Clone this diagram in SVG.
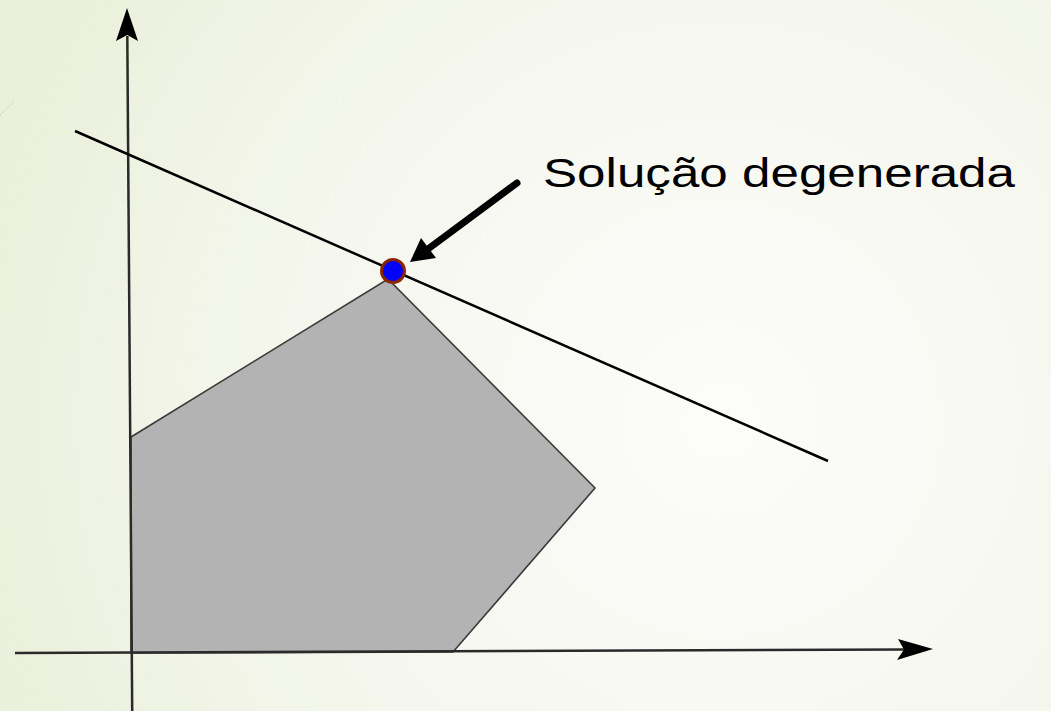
<svg xmlns="http://www.w3.org/2000/svg" width="1051" height="711" viewBox="0 0 1051 711">
  <defs>
    <radialGradient id="bg" cx="720" cy="420" r="760" gradientUnits="userSpaceOnUse">
      <stop offset="0" stop-color="#fcfcfa"/>
      <stop offset="0.55" stop-color="#f5f7ee"/>
      <stop offset="1" stop-color="#ebf0dc"/>
    </radialGradient>
    <style>
      .axis { stroke: #2a2a2a; stroke-width: 2.5; fill: none; }
      .head { fill: #000; }
      .label { font-family: "Century Gothic", "Liberation Sans", "DejaVu Sans", sans-serif; font-size: 41px; fill: #000; }
    </style>
  </defs>
  <rect width="1051" height="711" fill="url(#bg)"/>
  <line x1="0" y1="115" x2="14" y2="102" stroke="#c8cbbd" stroke-width="1" stroke-dasharray="1.5 1"/>

  <g id="region">
    <polygon points="131,437 388,279 595,488 453,652 131,653" fill="#b3b3b3" stroke="#3a3a3a" stroke-width="1.6"/>
  </g>

  <g id="connectors">
    <g id="y-axis">
      <line class="axis" x1="132.2" y1="711" x2="127.3" y2="36"/>
      <path class="head" d="M127,8 L138,41 L127.3,35 L116,41 Z"/>
    </g>
    <g id="x-axis">
      <line class="axis" x1="15" y1="653" x2="905" y2="649.5"/>
      <path class="head" d="M933,649 L897,660 L904,649.5 L898,639 Z"/>
    </g>
    <g id="constraint-line">
      <line x1="75" y1="131" x2="828" y2="461" stroke="#000" stroke-width="2.5"/>
    </g>
    <g id="callout-arrow">
      <line x1="517" y1="183" x2="428" y2="249" stroke="#000" stroke-width="7" stroke-linecap="round"/>
      <path class="head" d="M410,262 L421,238 L436,258 Z"/>
    </g>
  </g>

  <g id="degenerate-point">
    <circle cx="393" cy="271" r="11.5" fill="#0000ff" stroke="#8b2500" stroke-width="3"/>
  </g>

  <g id="label">
    <text class="label" x="543" y="187" textLength="472" lengthAdjust="spacingAndGlyphs">Solução degenerada</text>
  </g>
</svg>
